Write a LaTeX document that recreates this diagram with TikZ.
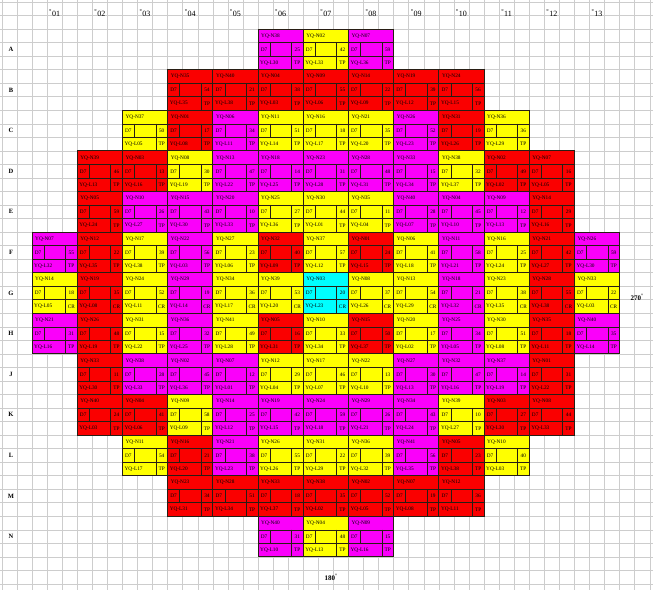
\documentclass[tikz,border=0pt]{standalone}
\usepackage{fontspec}
\setmainfont{Liberation Serif}
\definecolor{fR}{RGB}{250,0,0}
\definecolor{fM}{RGB}{250,0,250}
\definecolor{fY}{RGB}{255,255,0}
\definecolor{fC}{RGB}{0,255,255}
\definecolor{gridc}{RGB}{205,205,205}
\definecolor{linec}{RGB}{40,30,20}
\tikzset{
  gridline/.style={draw=gridc,line width=0.45pt},
  outerline/.style={draw=linec,line width=0.9pt},
  innerline/.style={draw=linec,line width=0.45pt},
  txt/.style={inner sep=0pt,font=\fontsize{5.3}{5.3}\selectfont,text=black},
  collab/.style={inner sep=0pt,font=\fontsize{8}{8}\selectfont},
  rowlab/.style={inner sep=0pt,font=\fontsize{6.5}{6.5}\selectfont\bfseries},
  anglab/.style={inner sep=0pt,font=\fontsize{7}{7}\selectfont\bfseries}
}
\newcommand\twodig[1]{\ifnum#1<10 0\fi#1}
% \fuelcell{col}{row}{colour}
\newcommand\fuelcell[3]{%
  \pgfmathtruncatemacro\na{mod(#2*7+#1*5,41)+1}%
  \pgfmathtruncatemacro\nb{mod(#2*11+#1*3,38)+1}%
  \pgfmathtruncatemacro\nc{mod(#2*13+#1*17,50)+10}%
  \ifnum#2=7 \def\tag{CR}\else\def\tag{TP}\fi
  \begin{scope}[shift={({32+(#1-1)*45.2},{29+(#2-1)*40.6})}]
    \fill[#3] (0,0) rectangle (45.2,40.6);
    \draw[innerline] (0,13.53) -- (45.2,13.53) (0,27.07) -- (45.2,27.07)
      (12,13.53) -- (12,27.07) (33.4,13.53) -- (33.4,40.6);
    \draw[outerline] (0,0) rectangle (45.2,40.6);
    \node[txt,anchor=west] (id-#2-#1) at (3,7) {YQ-N\twodig{\na}};
    \node[txt] (d-#2-#1) at (6,20.5) {D7};
    \node[txt] (n-#2-#1) at (39.3,20.5) {\nc};
    \node[txt,anchor=west] (l-#2-#1) at (2,34) {YQ-L\twodig{\nb}};
    \node[txt] (tp-#2-#1) at (39.3,34) {\tag};
  \end{scope}}
\begin{document}
\begin{tikzpicture}[x=1pt,y=-1pt]
\useasboundingbox (0,0) rectangle (653,590);
\fill[white] (0,0) rectangle (653,590);
% graph-paper background
\foreach \k in {-2,...,41} \draw[gridline] ({32+\k*45.2/3},0) -- ++(0,590);
\foreach \k in {-2,...,42} \draw[gridline] (0,{29+\k*40.6/3}) -- ++(653,0);
% fuel assemblies
\foreach \r/\cells in {
  1/{6/fM,7/fY,8/fM},
  2/{4/fR,5/fR,6/fR,7/fR,8/fR,9/fR,10/fR},
  3/{3/fY,4/fR,5/fM,6/fY,7/fY,8/fY,9/fM,10/fR,11/fY},
  4/{2/fR,3/fR,4/fY,5/fM,6/fM,7/fM,8/fM,9/fM,10/fY,11/fR,12/fR},
  5/{2/fR,3/fM,4/fM,5/fM,6/fY,7/fY,8/fY,9/fM,10/fM,11/fM,12/fR},
  6/{1/fM,2/fR,3/fY,4/fM,5/fY,6/fR,7/fY,8/fR,9/fY,10/fM,11/fY,12/fR,13/fM},
  7/{1/fY,2/fR,3/fY,4/fM,5/fY,6/fY,7/fC,8/fY,9/fY,10/fM,11/fY,12/fR,13/fY},
  8/{1/fM,2/fR,3/fY,4/fM,5/fY,6/fR,7/fY,8/fR,9/fY,10/fM,11/fY,12/fR,13/fM},
  9/{2/fR,3/fM,4/fM,5/fM,6/fY,7/fY,8/fY,9/fM,10/fM,11/fM,12/fR},
  10/{2/fR,3/fR,4/fY,5/fM,6/fM,7/fM,8/fM,9/fM,10/fY,11/fR,12/fR},
  11/{3/fY,4/fR,5/fM,6/fY,7/fY,8/fY,9/fM,10/fR,11/fY},
  12/{4/fR,5/fR,6/fR,7/fR,8/fR,9/fR,10/fR},
  13/{6/fM,7/fY,8/fM}} {
  \foreach \c/\col in \cells { \fuelcell{\c}{\r}{\col} }
}
% column labels
\foreach \c in {1,...,13}
  \node[collab] (col\c) at ({32+(\c-0.5)*45.2},13) {\textsuperscript{°}\twodig{\c}};
% row labels
\foreach \r/\lab in {1/A,2/B,3/C,4/D,5/E,6/F,7/G,8/H,9/J,10/K,11/L,12/M,13/N}
  \node[rowlab] (row\lab) at (11,{29+(\r-0.5)*40.6}) {\lab};
% orientation labels
\node[anglab] (deg270) at (637,297) {270\textsuperscript{°}};
\node[anglab] (deg180) at (331,577) {180\textsuperscript{°}};
\end{tikzpicture}
\end{document}
